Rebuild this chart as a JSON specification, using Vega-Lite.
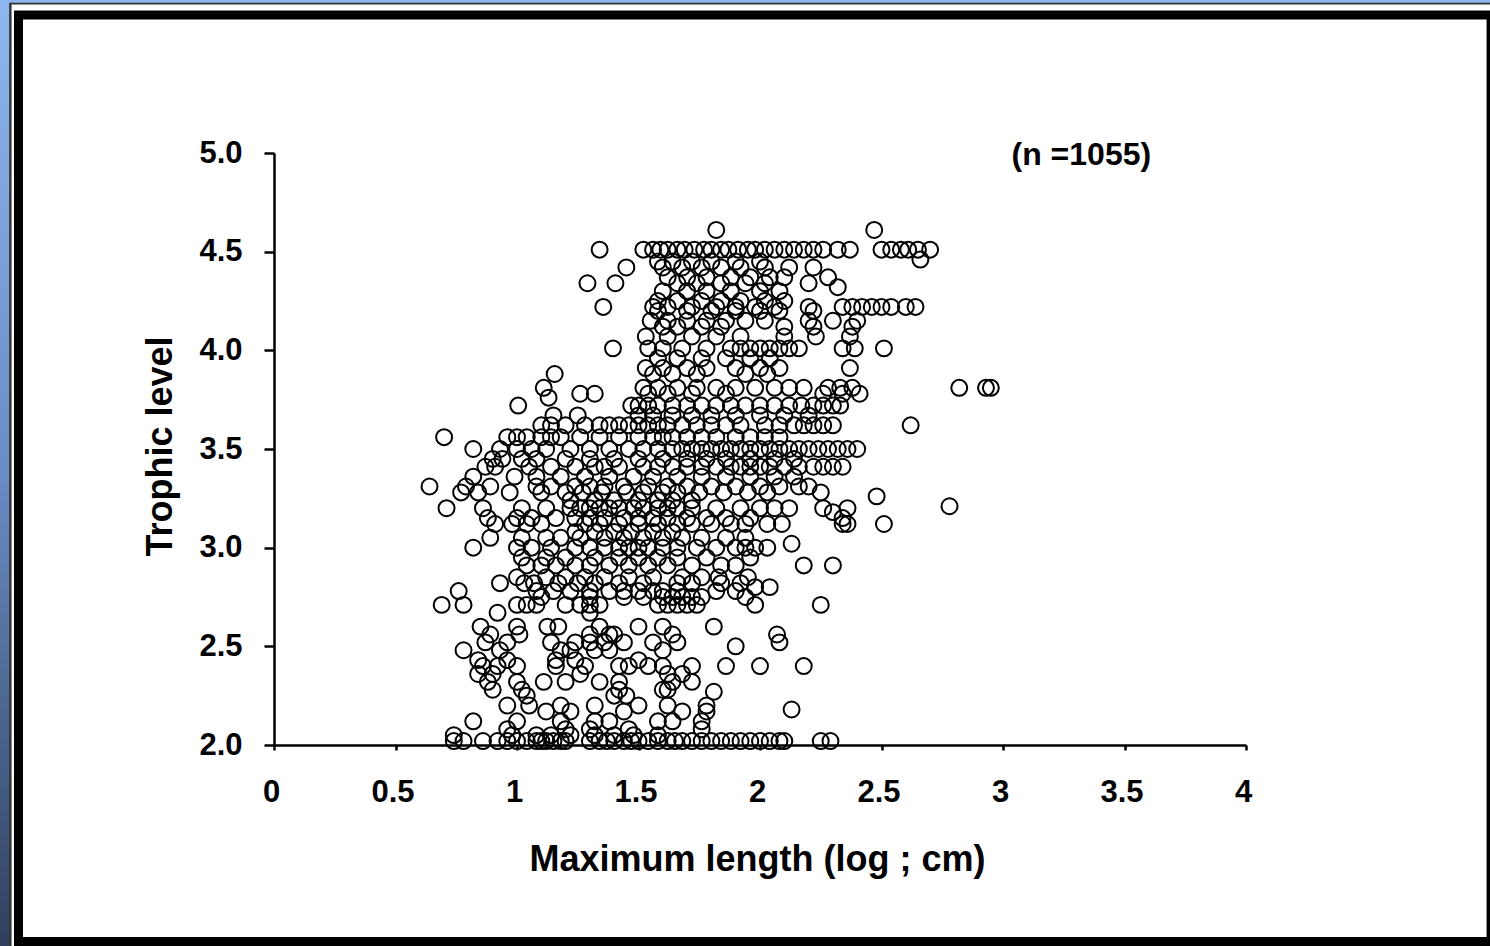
{"$schema":"https://vega.github.io/schema/vega-lite/v6.json","width":972,"height":592,"autosize":{"type":"none"},"padding":{"left":274,"top":153,"right":244,"bottom":201},"background":"#000000","config":{"view":{"stroke":null},"font":"Liberation Sans"},
"datasets":{"one":[{"k":1}],"fish":[
{"len":1.82,"tl":4.61},{"len":2.47,"tl":4.61},
{"len":1.34,"tl":4.51},{"len":1.52,"tl":4.51},{"len":1.56,"tl":4.51},{"len":1.59,"tl":4.51},{"len":1.62,"tl":4.51},{"len":1.66,"tl":4.51},{"len":1.69,"tl":4.51},{"len":1.73,"tl":4.51},{"len":1.77,"tl":4.51},{"len":1.8,"tl":4.51},{"len":1.84,"tl":4.51},{"len":1.87,"tl":4.51},{"len":1.91,"tl":4.51},{"len":1.95,"tl":4.51},{"len":1.98,"tl":4.51},{"len":2.02,"tl":4.51},{"len":2.06,"tl":4.51},{"len":2.1,"tl":4.51},{"len":2.14,"tl":4.51},{"len":2.18,"tl":4.51},{"len":2.22,"tl":4.51},{"len":2.26,"tl":4.51},{"len":2.32,"tl":4.51},{"len":2.37,"tl":4.51},{"len":2.5,"tl":4.51},{"len":2.54,"tl":4.51},{"len":2.58,"tl":4.51},{"len":2.61,"tl":4.51},{"len":2.65,"tl":4.51},{"len":2.7,"tl":4.51},
{"len":1.58,"tl":4.45},{"len":1.64,"tl":4.45},{"len":1.72,"tl":4.45},{"len":1.8,"tl":4.45},{"len":1.9,"tl":4.45},{"len":2.0,"tl":4.45},{"len":2.66,"tl":4.46},
{"len":1.45,"tl":4.42},{"len":1.6,"tl":4.42},{"len":1.68,"tl":4.42},{"len":1.76,"tl":4.42},{"len":1.84,"tl":4.42},{"len":1.92,"tl":4.42},{"len":2.02,"tl":4.42},{"len":2.12,"tl":4.42},{"len":2.22,"tl":4.42},
{"len":1.62,"tl":4.37},{"len":1.7,"tl":4.37},{"len":1.78,"tl":4.37},{"len":1.88,"tl":4.37},{"len":1.96,"tl":4.37},{"len":2.04,"tl":4.37},{"len":2.1,"tl":4.37},{"len":2.28,"tl":4.37},
{"len":1.29,"tl":4.34},{"len":1.405,"tl":4.34},{"len":1.66,"tl":4.34},{"len":1.74,"tl":4.34},{"len":1.84,"tl":4.34},{"len":1.94,"tl":4.34},{"len":2.02,"tl":4.34},{"len":2.2,"tl":4.34},
{"len":1.6,"tl":4.3},{"len":1.7,"tl":4.3},{"len":1.78,"tl":4.3},{"len":1.88,"tl":4.3},{"len":2.0,"tl":4.3},{"len":2.08,"tl":4.3},{"len":2.32,"tl":4.32},
{"len":1.58,"tl":4.25},{"len":1.66,"tl":4.25},{"len":1.76,"tl":4.25},{"len":1.84,"tl":4.25},{"len":1.92,"tl":4.25},{"len":2.02,"tl":4.25},{"len":2.1,"tl":4.25},
{"len":1.355,"tl":4.22},{"len":1.56,"tl":4.22},{"len":1.62,"tl":4.22},{"len":1.72,"tl":4.22},{"len":1.82,"tl":4.22},{"len":1.9,"tl":4.22},{"len":1.98,"tl":4.22},{"len":2.06,"tl":4.22},{"len":2.2,"tl":4.22},{"len":2.34,"tl":4.22},{"len":2.38,"tl":4.22},{"len":2.42,"tl":4.22},{"len":2.46,"tl":4.22},{"len":2.5,"tl":4.22},{"len":2.54,"tl":4.22},{"len":2.6,"tl":4.22},{"len":2.64,"tl":4.22},
{"len":1.58,"tl":4.2},{"len":1.7,"tl":4.2},{"len":1.8,"tl":4.2},{"len":1.9,"tl":4.2},{"len":2.0,"tl":4.2},{"len":2.08,"tl":4.2},{"len":2.22,"tl":4.2},
{"len":1.55,"tl":4.15},{"len":1.62,"tl":4.15},{"len":1.7,"tl":4.15},{"len":1.78,"tl":4.15},{"len":1.86,"tl":4.15},{"len":1.94,"tl":4.15},{"len":2.02,"tl":4.15},{"len":2.2,"tl":4.15},{"len":2.3,"tl":4.15},{"len":2.4,"tl":4.15},
{"len":1.6,"tl":4.12},{"len":1.66,"tl":4.12},{"len":1.76,"tl":4.12},{"len":1.84,"tl":4.12},{"len":2.1,"tl":4.12},{"len":2.38,"tl":4.12},{"len":2.22,"tl":4.12},
{"len":1.53,"tl":4.07},{"len":1.62,"tl":4.07},{"len":1.72,"tl":4.07},{"len":1.82,"tl":4.07},{"len":1.92,"tl":4.07},{"len":2.1,"tl":4.07},{"len":2.23,"tl":4.07},{"len":2.37,"tl":4.07},
{"len":1.395,"tl":4.01},{"len":1.54,"tl":4.01},{"len":1.6,"tl":4.01},{"len":1.68,"tl":4.01},{"len":1.78,"tl":4.01},{"len":1.88,"tl":4.01},{"len":1.92,"tl":4.01},{"len":1.96,"tl":4.01},{"len":2.0,"tl":4.01},{"len":2.04,"tl":4.01},{"len":2.08,"tl":4.01},{"len":2.12,"tl":4.01},{"len":2.16,"tl":4.01},{"len":2.34,"tl":4.01},{"len":2.39,"tl":4.01},{"len":2.51,"tl":4.01},
{"len":1.58,"tl":3.96},{"len":1.66,"tl":3.96},{"len":1.76,"tl":3.96},{"len":1.86,"tl":3.96},{"len":1.96,"tl":3.96},{"len":2.04,"tl":3.96},
{"len":1.53,"tl":3.91},{"len":1.6,"tl":3.91},{"len":1.7,"tl":3.91},{"len":1.78,"tl":3.91},{"len":1.9,"tl":3.91},{"len":2.0,"tl":3.91},{"len":2.08,"tl":3.91},{"len":2.37,"tl":3.91},
{"len":1.155,"tl":3.88},{"len":1.56,"tl":3.88},{"len":1.64,"tl":3.88},{"len":1.74,"tl":3.88},{"len":1.94,"tl":3.88},{"len":2.03,"tl":3.88},
{"len":1.11,"tl":3.81},{"len":1.52,"tl":3.81},{"len":1.58,"tl":3.81},{"len":1.66,"tl":3.81},{"len":1.74,"tl":3.81},{"len":1.82,"tl":3.81},{"len":1.9,"tl":3.81},{"len":1.98,"tl":3.81},{"len":2.06,"tl":3.81},{"len":2.12,"tl":3.81},{"len":2.18,"tl":3.81},{"len":2.28,"tl":3.81},{"len":2.33,"tl":3.81},{"len":2.38,"tl":3.81},{"len":2.82,"tl":3.81},{"len":2.93,"tl":3.81},{"len":2.95,"tl":3.81},
{"len":1.26,"tl":3.78},{"len":1.32,"tl":3.78},{"len":1.13,"tl":3.76},{"len":1.54,"tl":3.78},{"len":1.62,"tl":3.78},{"len":1.72,"tl":3.78},{"len":1.86,"tl":3.78},{"len":2.26,"tl":3.78},{"len":2.34,"tl":3.78},{"len":2.41,"tl":3.78},
{"len":1.005,"tl":3.72},{"len":1.47,"tl":3.72},{"len":1.5,"tl":3.72},{"len":1.54,"tl":3.72},{"len":1.58,"tl":3.72},{"len":1.64,"tl":3.72},{"len":1.7,"tl":3.72},{"len":1.76,"tl":3.72},{"len":1.82,"tl":3.72},{"len":1.88,"tl":3.72},{"len":1.94,"tl":3.72},{"len":2.0,"tl":3.72},{"len":2.06,"tl":3.72},{"len":2.12,"tl":3.72},{"len":2.17,"tl":3.72},{"len":2.22,"tl":3.72},{"len":2.26,"tl":3.72},{"len":2.3,"tl":3.72},{"len":2.33,"tl":3.72},
{"len":1.15,"tl":3.67},{"len":1.25,"tl":3.67},{"len":1.5,"tl":3.67},{"len":1.56,"tl":3.67},{"len":1.64,"tl":3.67},{"len":1.72,"tl":3.67},{"len":1.8,"tl":3.67},{"len":1.9,"tl":3.67},{"len":2.0,"tl":3.67},{"len":2.1,"tl":3.67},{"len":2.2,"tl":3.67},
{"len":1.1,"tl":3.62},{"len":1.14,"tl":3.62},{"len":1.2,"tl":3.62},{"len":1.28,"tl":3.62},{"len":1.34,"tl":3.62},{"len":1.38,"tl":3.62},{"len":1.42,"tl":3.62},{"len":1.46,"tl":3.62},{"len":1.5,"tl":3.62},{"len":1.54,"tl":3.62},{"len":1.58,"tl":3.62},{"len":1.62,"tl":3.62},{"len":1.68,"tl":3.62},{"len":1.74,"tl":3.62},{"len":1.8,"tl":3.62},{"len":1.86,"tl":3.62},{"len":1.92,"tl":3.62},{"len":2.02,"tl":3.62},{"len":2.08,"tl":3.62},{"len":2.14,"tl":3.62},{"len":2.18,"tl":3.62},{"len":2.22,"tl":3.62},{"len":2.26,"tl":3.62},{"len":2.3,"tl":3.62},{"len":2.62,"tl":3.62},
{"len":0.7,"tl":3.56},{"len":0.96,"tl":3.56},{"len":1.0,"tl":3.56},{"len":1.04,"tl":3.56},{"len":1.1,"tl":3.56},{"len":1.14,"tl":3.56},{"len":1.18,"tl":3.56},{"len":1.26,"tl":3.56},{"len":1.34,"tl":3.56},{"len":1.42,"tl":3.56},{"len":1.5,"tl":3.56},{"len":1.56,"tl":3.56},{"len":1.6,"tl":3.56},{"len":1.64,"tl":3.56},{"len":1.7,"tl":3.56},{"len":1.76,"tl":3.56},{"len":1.82,"tl":3.56},{"len":1.9,"tl":3.56},{"len":1.96,"tl":3.56},{"len":2.02,"tl":3.56},{"len":2.08,"tl":3.56},
{"len":0.82,"tl":3.5},{"len":0.93,"tl":3.5},{"len":1.0,"tl":3.5},{"len":1.06,"tl":3.5},{"len":1.12,"tl":3.5},{"len":1.22,"tl":3.5},{"len":1.3,"tl":3.5},{"len":1.38,"tl":3.5},{"len":1.46,"tl":3.5},{"len":1.52,"tl":3.5},{"len":1.58,"tl":3.5},{"len":1.64,"tl":3.5},{"len":1.68,"tl":3.5},{"len":1.72,"tl":3.5},{"len":1.76,"tl":3.5},{"len":1.8,"tl":3.5},{"len":1.84,"tl":3.5},{"len":1.88,"tl":3.5},{"len":1.92,"tl":3.5},{"len":1.96,"tl":3.5},{"len":2.0,"tl":3.5},{"len":2.04,"tl":3.5},{"len":2.08,"tl":3.5},{"len":2.12,"tl":3.5},{"len":2.16,"tl":3.5},{"len":2.2,"tl":3.5},{"len":2.24,"tl":3.5},{"len":2.28,"tl":3.5},{"len":2.32,"tl":3.5},{"len":2.36,"tl":3.5},{"len":2.4,"tl":3.5},
{"len":0.9,"tl":3.45},{"len":0.94,"tl":3.45},{"len":1.02,"tl":3.45},{"len":1.08,"tl":3.45},{"len":1.2,"tl":3.45},{"len":1.3,"tl":3.45},{"len":1.4,"tl":3.45},{"len":1.5,"tl":3.45},{"len":1.6,"tl":3.45},{"len":1.7,"tl":3.45},{"len":1.78,"tl":3.45},{"len":1.86,"tl":3.45},{"len":1.96,"tl":3.45},{"len":2.06,"tl":3.45},{"len":2.14,"tl":3.45},
{"len":0.87,"tl":3.41},{"len":0.91,"tl":3.41},{"len":1.05,"tl":3.41},{"len":1.14,"tl":3.41},{"len":1.24,"tl":3.41},{"len":1.32,"tl":3.41},{"len":1.36,"tl":3.41},{"len":1.42,"tl":3.41},{"len":1.52,"tl":3.41},{"len":1.58,"tl":3.41},{"len":1.64,"tl":3.41},{"len":1.7,"tl":3.41},{"len":1.76,"tl":3.41},{"len":1.82,"tl":3.41},{"len":1.88,"tl":3.41},{"len":1.92,"tl":3.41},{"len":1.96,"tl":3.41},{"len":2.0,"tl":3.41},{"len":2.04,"tl":3.41},{"len":2.1,"tl":3.41},{"len":2.16,"tl":3.41},{"len":2.22,"tl":3.41},{"len":2.26,"tl":3.41},{"len":2.3,"tl":3.41},{"len":2.34,"tl":3.41},
{"len":0.82,"tl":3.36},{"len":0.99,"tl":3.36},{"len":1.08,"tl":3.36},{"len":1.18,"tl":3.36},{"len":1.28,"tl":3.36},{"len":1.38,"tl":3.36},{"len":1.48,"tl":3.36},{"len":1.56,"tl":3.36},{"len":1.66,"tl":3.36},{"len":1.76,"tl":3.36},{"len":1.86,"tl":3.36},{"len":1.96,"tl":3.36},{"len":2.06,"tl":3.36},{"len":2.14,"tl":3.36},
{"len":0.64,"tl":3.31},{"len":0.79,"tl":3.31},{"len":0.89,"tl":3.31},{"len":1.08,"tl":3.31},{"len":1.14,"tl":3.31},{"len":1.24,"tl":3.31},{"len":1.3,"tl":3.31},{"len":1.36,"tl":3.31},{"len":1.44,"tl":3.31},{"len":1.54,"tl":3.31},{"len":1.62,"tl":3.31},{"len":1.7,"tl":3.31},{"len":1.8,"tl":3.31},{"len":1.9,"tl":3.31},{"len":2.0,"tl":3.31},{"len":2.08,"tl":3.31},{"len":2.16,"tl":3.31},{"len":2.2,"tl":3.31},
{"len":0.77,"tl":3.28},{"len":0.84,"tl":3.28},{"len":0.97,"tl":3.28},{"len":1.1,"tl":3.28},{"len":1.2,"tl":3.28},{"len":1.27,"tl":3.28},{"len":1.35,"tl":3.28},{"len":1.45,"tl":3.28},{"len":1.52,"tl":3.28},{"len":1.6,"tl":3.28},{"len":1.66,"tl":3.28},{"len":1.75,"tl":3.28},{"len":1.85,"tl":3.28},{"len":1.95,"tl":3.28},{"len":2.03,"tl":3.28},{"len":2.48,"tl":3.26},{"len":2.25,"tl":3.28},
{"len":1.22,"tl":3.24},{"len":1.32,"tl":3.24},{"len":1.4,"tl":3.24},{"len":1.5,"tl":3.24},{"len":1.58,"tl":3.24},{"len":1.64,"tl":3.24},{"len":1.72,"tl":3.24},
{"len":0.71,"tl":3.2},{"len":0.86,"tl":3.2},{"len":1.02,"tl":3.2},{"len":1.12,"tl":3.2},{"len":1.22,"tl":3.2},{"len":1.26,"tl":3.2},{"len":1.3,"tl":3.2},{"len":1.34,"tl":3.2},{"len":1.38,"tl":3.2},{"len":1.42,"tl":3.2},{"len":1.48,"tl":3.2},{"len":1.52,"tl":3.2},{"len":1.58,"tl":3.2},{"len":1.62,"tl":3.2},{"len":1.66,"tl":3.2},{"len":1.72,"tl":3.2},{"len":1.82,"tl":3.2},{"len":1.92,"tl":3.2},{"len":2.0,"tl":3.2},{"len":2.06,"tl":3.2},{"len":2.12,"tl":3.2},{"len":2.26,"tl":3.2},{"len":2.36,"tl":3.2},{"len":2.78,"tl":3.21},
{"len":0.88,"tl":3.15},{"len":1.0,"tl":3.15},{"len":1.06,"tl":3.15},{"len":1.16,"tl":3.15},{"len":1.24,"tl":3.15},{"len":1.3,"tl":3.15},{"len":1.36,"tl":3.15},{"len":1.44,"tl":3.15},{"len":1.5,"tl":3.15},{"len":1.56,"tl":3.15},{"len":1.62,"tl":3.15},{"len":1.7,"tl":3.15},{"len":1.78,"tl":3.15},{"len":1.86,"tl":3.15},{"len":1.96,"tl":3.15},{"len":2.3,"tl":3.18},{"len":2.34,"tl":3.15},
{"len":0.91,"tl":3.12},{"len":0.98,"tl":3.12},{"len":1.04,"tl":3.12},{"len":1.1,"tl":3.12},{"len":1.28,"tl":3.12},{"len":1.34,"tl":3.12},{"len":1.42,"tl":3.12},{"len":1.5,"tl":3.12},{"len":1.58,"tl":3.12},{"len":1.66,"tl":3.12},{"len":1.72,"tl":3.12},{"len":1.8,"tl":3.12},{"len":1.88,"tl":3.12},{"len":1.94,"tl":3.12},{"len":2.03,"tl":3.12},{"len":2.09,"tl":3.12},{"len":2.34,"tl":3.12},{"len":2.36,"tl":3.12},{"len":2.51,"tl":3.12},
{"len":1.24,"tl":3.08},{"len":1.32,"tl":3.08},{"len":1.4,"tl":3.08},{"len":1.47,"tl":3.08},{"len":1.56,"tl":3.08},{"len":1.64,"tl":3.08},
{"len":0.89,"tl":3.05},{"len":1.02,"tl":3.05},{"len":1.12,"tl":3.05},{"len":1.18,"tl":3.05},{"len":1.26,"tl":3.05},{"len":1.36,"tl":3.05},{"len":1.44,"tl":3.05},{"len":1.52,"tl":3.05},{"len":1.6,"tl":3.05},{"len":1.68,"tl":3.05},{"len":1.76,"tl":3.05},{"len":1.86,"tl":3.05},{"len":1.94,"tl":3.05},
{"len":0.82,"tl":3.0},{"len":1.0,"tl":3.0},{"len":1.06,"tl":3.0},{"len":1.14,"tl":3.0},{"len":1.24,"tl":3.0},{"len":1.3,"tl":3.0},{"len":1.36,"tl":3.0},{"len":1.42,"tl":3.0},{"len":1.46,"tl":3.0},{"len":1.5,"tl":3.0},{"len":1.54,"tl":3.0},{"len":1.6,"tl":3.0},{"len":1.66,"tl":3.0},{"len":1.74,"tl":3.0},{"len":1.82,"tl":3.0},{"len":1.9,"tl":3.0},{"len":1.94,"tl":3.0},{"len":1.98,"tl":3.0},{"len":2.03,"tl":3.0},{"len":2.13,"tl":3.02},
{"len":1.02,"tl":2.95},{"len":1.12,"tl":2.95},{"len":1.2,"tl":2.95},{"len":1.32,"tl":2.95},{"len":1.42,"tl":2.95},{"len":1.5,"tl":2.95},{"len":1.58,"tl":2.95},{"len":1.66,"tl":2.95},{"len":1.78,"tl":2.95},{"len":1.96,"tl":2.95},
{"len":1.04,"tl":2.91},{"len":1.1,"tl":2.91},{"len":1.16,"tl":2.91},{"len":1.24,"tl":2.91},{"len":1.3,"tl":2.91},{"len":1.38,"tl":2.91},{"len":1.46,"tl":2.91},{"len":1.54,"tl":2.91},{"len":1.62,"tl":2.91},{"len":1.72,"tl":2.91},{"len":1.84,"tl":2.91},{"len":1.9,"tl":2.91},{"len":2.18,"tl":2.91},{"len":2.3,"tl":2.91},
{"len":1.0,"tl":2.85},{"len":1.12,"tl":2.85},{"len":1.2,"tl":2.85},{"len":1.28,"tl":2.85},{"len":1.36,"tl":2.85},{"len":1.46,"tl":2.85},{"len":1.56,"tl":2.85},{"len":1.68,"tl":2.85},{"len":1.76,"tl":2.85},{"len":1.83,"tl":2.85},{"len":1.95,"tl":2.85},
{"len":0.93,"tl":2.82},{"len":1.03,"tl":2.82},{"len":1.07,"tl":2.82},{"len":1.17,"tl":2.82},{"len":1.25,"tl":2.82},{"len":1.32,"tl":2.82},{"len":1.42,"tl":2.82},{"len":1.52,"tl":2.82},{"len":1.66,"tl":2.82},{"len":1.72,"tl":2.82},{"len":1.98,"tl":2.8},{"len":1.84,"tl":2.82},{"len":1.92,"tl":2.82},
{"len":0.76,"tl":2.78},{"len":1.08,"tl":2.78},{"len":1.15,"tl":2.78},{"len":1.22,"tl":2.78},{"len":1.3,"tl":2.78},{"len":1.38,"tl":2.78},{"len":1.44,"tl":2.78},{"len":1.5,"tl":2.78},{"len":1.56,"tl":2.78},{"len":1.6,"tl":2.78},{"len":1.66,"tl":2.78},{"len":1.82,"tl":2.78},{"len":1.9,"tl":2.78},{"len":2.04,"tl":2.8},
{"len":1.1,"tl":2.75},{"len":1.3,"tl":2.75},{"len":1.44,"tl":2.75},{"len":1.52,"tl":2.75},{"len":1.6,"tl":2.75},{"len":1.64,"tl":2.75},{"len":1.68,"tl":2.75},{"len":1.72,"tl":2.75},{"len":1.76,"tl":2.75},{"len":1.94,"tl":2.75},
{"len":0.69,"tl":2.71},{"len":0.78,"tl":2.71},{"len":1.0,"tl":2.71},{"len":1.04,"tl":2.71},{"len":1.08,"tl":2.71},{"len":1.2,"tl":2.71},{"len":1.26,"tl":2.71},{"len":1.3,"tl":2.71},{"len":1.34,"tl":2.71},{"len":1.58,"tl":2.71},{"len":1.62,"tl":2.71},{"len":1.66,"tl":2.71},{"len":1.7,"tl":2.71},{"len":1.74,"tl":2.71},{"len":1.98,"tl":2.71},{"len":2.25,"tl":2.71},
{"len":0.92,"tl":2.67},{"len":1.3,"tl":2.67},
{"len":0.85,"tl":2.6},{"len":1.0,"tl":2.6},{"len":1.125,"tl":2.6},{"len":1.17,"tl":2.6},{"len":1.34,"tl":2.6},{"len":1.5,"tl":2.6},{"len":1.6,"tl":2.6},{"len":1.81,"tl":2.6},
{"len":0.89,"tl":2.56},{"len":1.01,"tl":2.56},{"len":1.3,"tl":2.56},{"len":1.4,"tl":2.56},{"len":1.64,"tl":2.56},{"len":1.38,"tl":2.56},{"len":2.07,"tl":2.56},
{"len":0.87,"tl":2.52},{"len":0.96,"tl":2.52},{"len":1.14,"tl":2.52},{"len":1.24,"tl":2.52},{"len":1.3,"tl":2.52},{"len":1.36,"tl":2.52},{"len":1.44,"tl":2.52},{"len":1.56,"tl":2.52},{"len":1.66,"tl":2.52},{"len":1.9,"tl":2.5},{"len":2.08,"tl":2.52},
{"len":0.78,"tl":2.48},{"len":0.93,"tl":2.48},{"len":1.18,"tl":2.48},{"len":1.22,"tl":2.48},{"len":1.32,"tl":2.48},{"len":1.38,"tl":2.48},{"len":1.6,"tl":2.48},
{"len":0.84,"tl":2.43},{"len":0.96,"tl":2.43},{"len":1.16,"tl":2.43},{"len":1.24,"tl":2.43},{"len":1.5,"tl":2.43},
{"len":0.86,"tl":2.4},{"len":0.92,"tl":2.4},{"len":1.0,"tl":2.4},{"len":1.16,"tl":2.4},{"len":1.28,"tl":2.4},{"len":1.42,"tl":2.4},{"len":1.46,"tl":2.4},{"len":1.54,"tl":2.4},{"len":1.6,"tl":2.4},{"len":1.72,"tl":2.4},{"len":1.86,"tl":2.4},{"len":2.0,"tl":2.4},{"len":2.18,"tl":2.4},
{"len":0.84,"tl":2.36},{"len":0.9,"tl":2.36},{"len":1.26,"tl":2.36},{"len":1.62,"tl":2.36},{"len":1.68,"tl":2.36},
{"len":0.88,"tl":2.32},{"len":1.0,"tl":2.32},{"len":1.11,"tl":2.32},{"len":1.2,"tl":2.32},{"len":1.34,"tl":2.32},{"len":1.42,"tl":2.32},{"len":1.64,"tl":2.32},{"len":1.72,"tl":2.32},
{"len":0.9,"tl":2.28},{"len":1.02,"tl":2.28},{"len":1.42,"tl":2.28},{"len":1.6,"tl":2.28},{"len":1.62,"tl":2.28},
{"len":1.04,"tl":2.25},{"len":1.4,"tl":2.25},{"len":1.45,"tl":2.25},{"len":1.81,"tl":2.27},
{"len":0.96,"tl":2.2},{"len":1.05,"tl":2.2},{"len":1.18,"tl":2.2},{"len":1.32,"tl":2.2},{"len":1.5,"tl":2.2},{"len":1.62,"tl":2.2},{"len":1.78,"tl":2.2},
{"len":1.12,"tl":2.17},{"len":1.22,"tl":2.17},{"len":1.44,"tl":2.17},{"len":1.68,"tl":2.17},{"len":2.13,"tl":2.18},{"len":1.78,"tl":2.17},
{"len":0.82,"tl":2.12},{"len":1.0,"tl":2.12},{"len":1.18,"tl":2.12},{"len":1.32,"tl":2.12},{"len":1.38,"tl":2.12},{"len":1.58,"tl":2.12},{"len":1.64,"tl":2.12},{"len":1.76,"tl":2.12},
{"len":0.96,"tl":2.08},{"len":1.2,"tl":2.08},{"len":1.3,"tl":2.08},{"len":1.46,"tl":2.08},{"len":1.76,"tl":2.08},
{"len":0.74,"tl":2.05},{"len":0.98,"tl":2.05},{"len":1.08,"tl":2.05},{"len":1.14,"tl":2.05},{"len":1.22,"tl":2.05},{"len":1.32,"tl":2.05},{"len":1.4,"tl":2.05},{"len":1.48,"tl":2.05},{"len":1.58,"tl":2.05},
{"len":0.74,"tl":2.02},{"len":0.78,"tl":2.02},{"len":0.86,"tl":2.02},{"len":0.92,"tl":2.02},{"len":0.96,"tl":2.02},{"len":1.0,"tl":2.02},{"len":1.04,"tl":2.02},{"len":1.08,"tl":2.02},{"len":1.1,"tl":2.02},{"len":1.12,"tl":2.02},{"len":1.15,"tl":2.02},{"len":1.18,"tl":2.02},{"len":1.2,"tl":2.02},{"len":1.3,"tl":2.02},{"len":1.34,"tl":2.02},{"len":1.37,"tl":2.02},{"len":1.4,"tl":2.02},{"len":1.44,"tl":2.02},{"len":1.47,"tl":2.02},{"len":1.5,"tl":2.02},{"len":1.54,"tl":2.02},{"len":1.58,"tl":2.02},{"len":1.62,"tl":2.02},{"len":1.65,"tl":2.02},{"len":1.68,"tl":2.02},{"len":1.72,"tl":2.02},{"len":1.76,"tl":2.02},{"len":1.8,"tl":2.02},{"len":1.84,"tl":2.02},{"len":1.88,"tl":2.02},{"len":1.92,"tl":2.02},{"len":1.96,"tl":2.02},{"len":2.0,"tl":2.02},{"len":2.04,"tl":2.02},{"len":2.08,"tl":2.02},{"len":2.1,"tl":2.02},{"len":2.25,"tl":2.02},{"len":2.29,"tl":2.02}
]},
"layer":[
{"data":{"name":"one"},"mark":{"type":"rect","color":{"gradient":"linear","x1":0,"y1":0,"x2":0,"y2":1,"stops":[{"offset":0,"color":"#8fb6ee"},{"offset":0.5,"color":"#6a8cc4"},{"offset":1,"color":"#2f405e"}]}},"encoding":{"x":{"datum":-1.13,"type":"quantitative","scale":{"domain":[0,4]}},"x2":{"datum":5.01},"y":{"datum":5.78,"type":"quantitative","scale":{"domain":[2,5]}},"y2":{"datum":0.97}}},
{"data":{"name":"one"},"mark":{"type":"rect","color":"#333333"},"encoding":{"x":{"datum":-1.09,"type":"quantitative"},"x2":{"datum":5.01},"y":{"datum":5.762,"type":"quantitative"},"y2":{"datum":0.97}}},
{"data":{"name":"one"},"mark":{"type":"rect","color":"#ffffff"},"encoding":{"x":{"datum":-1.08,"type":"quantitative"},"x2":{"datum":5.01},"y":{"datum":5.752,"type":"quantitative"},"y2":{"datum":0.97}}},
{"data":{"name":"one"},"mark":{"type":"rect","color":"#000000"},"encoding":{"x":{"datum":-1.07,"type":"quantitative"},"x2":{"datum":5.01},"y":{"datum":5.722,"type":"quantitative"},"y2":{"datum":0.97}}},
{"data":{"name":"one"},"mark":{"type":"rect","color":"#ffffff"},"encoding":{"x":{"datum":-1.033,"type":"quantitative"},"x2":{"datum":4.99},"y":{"datum":5.677,"type":"quantitative"},"y2":{"datum":1.027}}},
{"data":{"name":"fish"},"mark":{"type":"point","shape":"circle","filled":false,"size":254,"stroke":"#000000","strokeWidth":2,"opacity":1},"encoding":{"x":{"field":"len","type":"quantitative","scale":{"domain":[0,4]},"axis":{"zindex":1,"values":[0,0.5,1,1.5,2,2.5,3,3.5,4],"labelExpr":"datum.value","title":"Maximum length (log ; cm)","titleFont":"Liberation Sans","titleFontSize":36,"titleFontWeight":"bold","titleColor":"#000000","titlePadding":35,"titleX":483,"labelFont":"Liberation Sans","labelFontSize":31,"labelFontWeight":"bold","labelColor":"#000000","labelPadding":27,"labelOffset":-3,"labelFlush":false,"grid":false,"domainColor":"#000000","domainWidth":2.5,"tickColor":"#000000","tickWidth":2.5,"tickSize":5}},"y":{"field":"tl","type":"quantitative","scale":{"domain":[2,5]},"axis":{"zindex":1,"values":[2,2.5,3,3.5,4,4.5,5],"format":".1f","title":"Trophic level","titleFont":"Liberation Sans","titleFontSize":36,"titleFontWeight":"bold","titleColor":"#000000","titlePadding":19,"titleY":293,"labelFont":"Liberation Sans","labelFontSize":31,"labelFontWeight":"bold","labelColor":"#000000","labelPadding":22,"grid":false,"domainColor":"#000000","domainWidth":2.5,"tickColor":"#000000","tickWidth":2.5,"tickSize":10}}}},
{"data":{"name":"one"},"mark":{"type":"text","text":"(n =1055)","font":"Liberation Sans","fontSize":32,"fontWeight":"bold","color":"#000000","align":"left","baseline":"middle"},"encoding":{"x":{"datum":3.035,"type":"quantitative"},"y":{"datum":4.99,"type":"quantitative"}}}
]}
